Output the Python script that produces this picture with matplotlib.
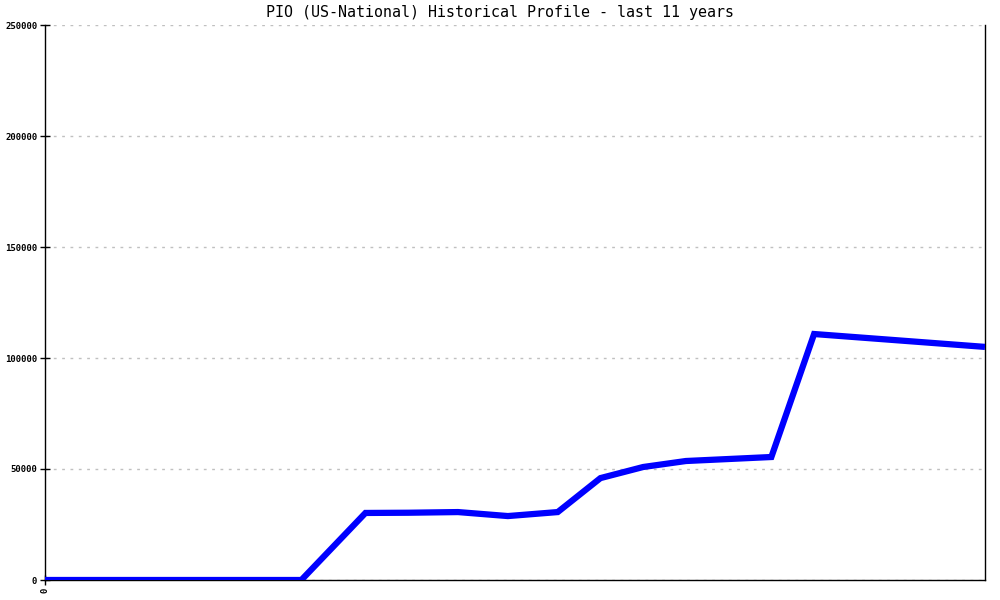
import matplotlib
matplotlib.use("Agg")
import matplotlib.pyplot as plt

# months since start of the 11-year window, and value
meses = [0, 36, 45, 51, 58, 65, 72, 78, 84, 90, 102, 108, 132]
valores = [0, 0, 30200, 30300, 30600, 28800, 30600, 45900, 50900, 53600, 55400, 110800, 105000]

titulo = "PIO (US-National) Historical Profile - last 11 years"
yticks = [0, 50000, 100000, 150000, 200000, 250000]

fig = plt.figure(figsize=(10, 6), dpi=100)
ax = fig.add_axes([0.045, 20 / 600, 0.94, 555 / 600])

ax.plot(meses, valores, color="#0000ff", linewidth=4.5, solid_joinstyle="miter",
        solid_capstyle="butt", zorder=3)

ax.set_xlim(0, 132)
ax.set_ylim(0, 250000)
ax.set_yticks(yticks)
ax.set_yticklabels([str(v) for v in yticks], family="DejaVu Sans Mono",
                   fontsize=6.5, fontweight="bold")
ax.set_xticks([0])
ax.set_xticklabels(["0"], family="DejaVu Sans Mono", fontsize=6.5,
                   fontweight="bold", rotation=90)
ax.tick_params(axis="both", direction="inout", length=7, width=1, pad=2)

ax.grid(axis="y", color="#c0c0c0", linestyle=(0, (2, 4)), linewidth=1)
ax.spines["top"].set_visible(False)
for s in ["left", "bottom", "right"]:
    ax.spines[s].set_linewidth(1)
    ax.spines[s].set_color("black")

fig.text(0.5, 1 - 13 / 600, titulo, ha="center", va="center",
         family="DejaVu Sans Mono", fontsize=10.8)

fig.savefig("out.png", dpi=100)
